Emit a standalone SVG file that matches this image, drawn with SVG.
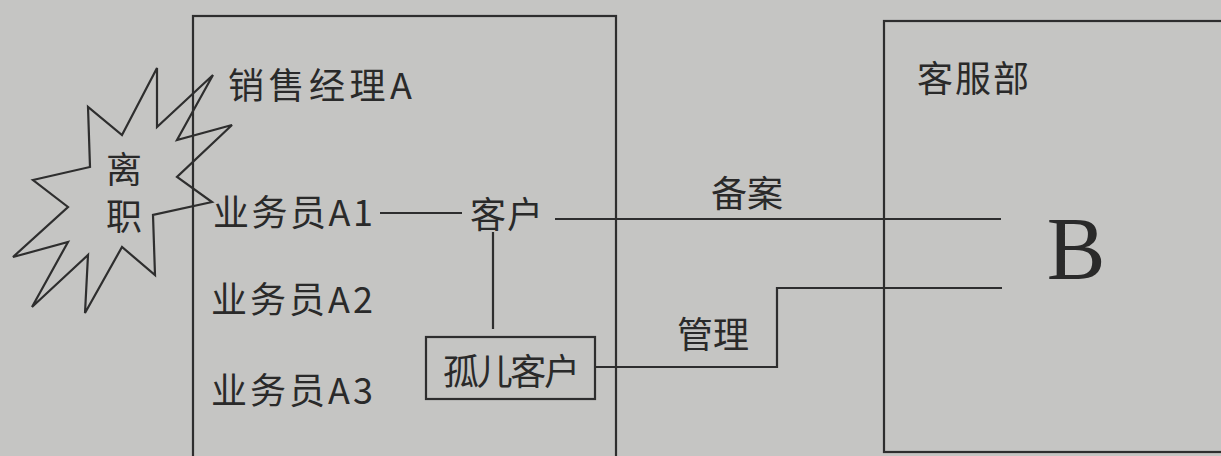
<svg xmlns="http://www.w3.org/2000/svg" width="1221" height="456" viewBox="0 0 1221 456">
<style>
.ln{fill:none;stroke:#2e2e2e;stroke-width:2.2;stroke-linejoin:miter}
.t{font-family:"Noto Sans CJK SC","Noto Sans CJK JP",sans-serif;fill:#2a2a2a;font-size:36px}
.b{font-family:"Liberation Serif",serif;fill:#2a2a2a;font-size:88px}
</style>
<rect x="0" y="0" width="1221" height="456" fill="#c5c5c3"/>
<g id="dept-A">
<rect class="ln" x="193" y="16" width="423" height="460"/>
<text class="t" x="228" y="99" textLength="184" lengthAdjust="spacing">销售经理A</text>
</g>
<g id="resign">
<polygon class="ln" points="157,68 157,127 213,75 177,140 232,125 177,177 212,202 153,215 155,275 122,247 85,313 88,255 32,307 68,242 13,257 68,207 33,180 90,167 88,107 122,135"/>
<text class="t" x="124" y="183" font-size="31" text-anchor="middle">离</text>
<text class="t" x="124" y="230" font-size="31" text-anchor="middle">职</text>
</g>
<g id="rep-A1"><text class="t" x="213" y="226" textLength="160" lengthAdjust="spacing">业务员A1</text></g>
<g id="rep-A2"><text class="t" x="211" y="313" textLength="162" lengthAdjust="spacing">业务员A2</text></g>
<g id="rep-A3"><text class="t" x="211" y="404" textLength="162" lengthAdjust="spacing">业务员A3</text></g>
<g id="customer"><text class="t" x="470" y="228" textLength="73" lengthAdjust="spacing">客户</text></g>
<g id="orphan">
<rect class="ln" x="426" y="337" width="169" height="62"/>
<text class="t" x="443" y="385" font-size="34" textLength="137" lengthAdjust="spacing">孤儿客户</text>
</g>
<g id="service">
<rect class="ln" x="884" y="21" width="360" height="431"/>
<text class="t" x="917" y="92" textLength="112" lengthAdjust="spacing">客服部</text>
<text class="b" x="1076" y="278" text-anchor="middle">B</text>
</g>
<g id="connectors">
<line class="ln" x1="380" y1="213" x2="462" y2="213"/>
<line class="ln" x1="493" y1="232" x2="493" y2="329"/>
<line class="ln" x1="555" y1="219" x2="1001" y2="219"/>
<path class="ln" d="M595,367 H777 V288 H1002"/>
<text class="t" x="747" y="207" text-anchor="middle">备案</text>
<text class="t" x="713" y="348" text-anchor="middle">管理</text>
</g>
</svg>
